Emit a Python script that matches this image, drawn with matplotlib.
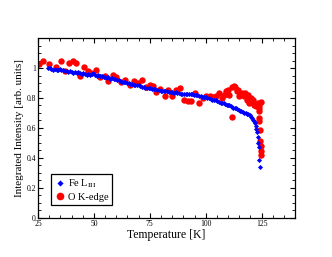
import matplotlib
matplotlib.use("Agg")
import matplotlib.pyplot as plt
from matplotlib.ticker import MultipleLocator, FixedLocator

plt.rcParams['font.family'] = ['Liberation Serif', 'DejaVu Serif']
plt.rcParams['mathtext.fontset'] = 'stix'

fe_T = [29.5, 30.2, 31, 31.8, 32.5, 33.3, 34, 34.8, 35.5, 36.3, 37, 37.8, 38.5, 39.3, 40,
        40.8, 41.5, 42.3, 43, 43.8, 44.5, 45.3, 46, 46.8, 47.5, 48.3, 49, 49.8, 50.5, 51.3,
        52, 52.8, 53.5, 54.3, 55, 55.8, 56.5, 57.3, 58, 58.8, 59.5, 60.3, 61, 61.8, 62.5,
        63.3, 64, 64.8, 65.5, 66.3, 67, 67.8, 68.5, 69.3, 70, 70.8, 71.5, 72.3, 73, 73.8,
        74.5, 75.3, 76, 76.8, 77.5, 78.3, 79, 79.8, 80.5, 81.3, 82, 82.8, 83.5, 84.3, 85,
        85.8, 86.5, 87.3, 88, 88.8, 89.5, 90.3, 91, 91.8, 92.5, 93.3, 94, 94.8, 95.5, 96.3,
        97, 97.8, 98.5, 99.3, 100, 100.8, 101.5, 102.3, 103, 103.8, 104.5, 105.2, 106, 106.7,
        107.4, 108, 108.7, 109.3, 110, 110.6, 111.2, 111.8, 112.4, 113, 113.6, 114.2, 114.8,
        115.4, 116, 116.6, 117.2, 117.8, 118.4, 119, 119.6, 120.2, 120.7, 121.2, 121.6, 122,
        122.4, 122.7, 123, 123.3, 123.6, 123.8, 124, 124.2]
fe_I = [1.0, 1.0, 0.995, 0.99, 0.995, 0.99, 0.985, 0.995, 0.99, 0.985, 0.98, 0.98, 0.975, 0.98, 0.975,
        0.97, 0.975, 0.97, 0.975, 0.965, 0.96, 0.965, 0.96, 0.955, 0.96, 0.955, 0.96, 0.965, 0.955, 0.95,
        0.955, 0.945, 0.95, 0.94, 0.94, 0.935, 0.94, 0.93, 0.935, 0.925, 0.93, 0.92, 0.92, 0.915, 0.91,
        0.91, 0.905, 0.9, 0.9, 0.895, 0.895, 0.89, 0.89, 0.885, 0.885, 0.88, 0.875, 0.875, 0.87, 0.87,
        0.865, 0.865, 0.86, 0.86, 0.86, 0.855, 0.855, 0.85, 0.85, 0.845, 0.845, 0.845, 0.84, 0.84, 0.84,
        0.835, 0.84, 0.835, 0.835, 0.83, 0.83, 0.83, 0.83, 0.825, 0.83, 0.825, 0.825, 0.82, 0.82, 0.82,
        0.815, 0.815, 0.81, 0.805, 0.805, 0.8, 0.8, 0.795, 0.79, 0.79, 0.785, 0.78, 0.775, 0.77,
        0.77, 0.765, 0.76, 0.755, 0.755, 0.75, 0.745, 0.74, 0.735, 0.73, 0.73, 0.725, 0.72,
        0.715, 0.71, 0.705, 0.70, 0.70, 0.695, 0.69, 0.685, 0.675, 0.665, 0.655, 0.645, 0.63,
        0.61, 0.59, 0.575, 0.54, 0.50, 0.475, 0.385, 0.34]

o_T = [25.5, 27.4, 30, 32.9, 35.1, 37, 38.8, 40.5, 42.2, 44, 45.5, 47.4, 48.9, 51.1, 52.6,
       54.9, 56.4, 58.6, 60, 62.3, 64.1, 66, 67.9, 69.7, 71.7, 73.4, 75, 76.4, 77.9, 79.4,
       81.6, 83.1, 85, 86.8, 88.7, 90.5, 92, 93.5, 95.4, 96.9, 98.7, 100.2, 101.7, 103.2,
       104.6, 106.1, 107.2, 108, 109, 109.8, 110.6, 111.6, 111.6, 112.5, 113.3, 113.9, 114.5,
       115, 116.2, 117, 117.7, 118.3, 118.9, 119.5, 120.1, 120.7, 121.3, 121.7, 122.5, 123.2,
       123.7, 123.7, 124, 124, 124.3, 124.5, 124.6, 124.8, 124.9, 124.8, 123.9]
o_I = [1.027, 1.044, 1.027, 1.01, 1.05, 0.978, 1.033, 1.049, 1.033, 0.944, 1.004, 0.978, 0.967, 0.984, 0.94,
       0.949, 0.911, 0.956, 0.94, 0.904, 0.918, 0.889, 0.911, 0.9, 0.922, 0.873, 0.889, 0.878, 0.838, 0.86,
       0.811, 0.856, 0.811, 0.851, 0.867, 0.789, 0.778, 0.778, 0.833, 0.767, 0.8, 0.811, 0.816, 0.807,
       0.816, 0.833, 0.8, 0.822, 0.845, 0.856, 0.822, 0.873, 0.673, 0.882, 0.873, 0.845, 0.856,
       0.811, 0.833, 0.811, 0.833, 0.789, 0.822, 0.767, 0.8, 0.778, 0.789, 0.756, 0.744, 0.767,
       0.733, 0.711, 0.667, 0.644, 0.589, 0.511, 0.478, 0.444, 0.422, 0.771, 0.751]

fig = plt.figure(figsize=(3.32, 2.57), dpi=100)
ax = fig.add_axes([0.1145, 0.152, 0.7745, 0.70])

ax.plot(fe_T, fe_I, linestyle='none', marker='D', markersize=2.6, color='#0000ff',
        markeredgewidth=0, label=r'Fe L$_{\mathrm{III}}$', zorder=3)
ax.plot(o_T, o_I, linestyle='none', marker='o', markersize=4.6, color='#ff0000',
        markeredgewidth=0, label='O K-edge', zorder=2)

ax.set_xlim(25, 140)
ax.set_ylim(0, 1.2)
ax.xaxis.set_major_locator(FixedLocator([25, 50, 75, 100, 125]))
ax.xaxis.set_minor_locator(MultipleLocator(5))
ax.yaxis.set_major_locator(FixedLocator([0, 0.2, 0.4, 0.6, 0.8, 1.0]))
ax.yaxis.set_minor_locator(MultipleLocator(0.05))
ax.set_yticklabels(['0', '0.2', '0.4', '0.6', '0.8', '1'])
ax.tick_params(which='both', direction='in', top=True, right=True, labelsize=5.5, pad=1.5)
ax.tick_params(which='major', length=3.5, width=0.8)
ax.tick_params(which='minor', length=2, width=0.6)
for s in ax.spines.values():
    s.set_linewidth(0.9)

ax.set_xlabel('Temperature [K]', fontsize=8.5, labelpad=1)
ax.set_ylabel('Integrated Intensity [arb. units]', fontsize=8, labelpad=2)

leg = ax.legend(loc='lower left', bbox_to_anchor=(0.05, 0.07), borderaxespad=0,
                fontsize=7.5, frameon=True, fancybox=False, framealpha=1,
                handletextpad=0.3, handlelength=1.0, borderpad=0.35, labelspacing=0.25,
                markerscale=1.2)
leg.get_frame().set_edgecolor('black')
leg.get_frame().set_linewidth(0.9)

fig.savefig('out.png', dpi=100)
